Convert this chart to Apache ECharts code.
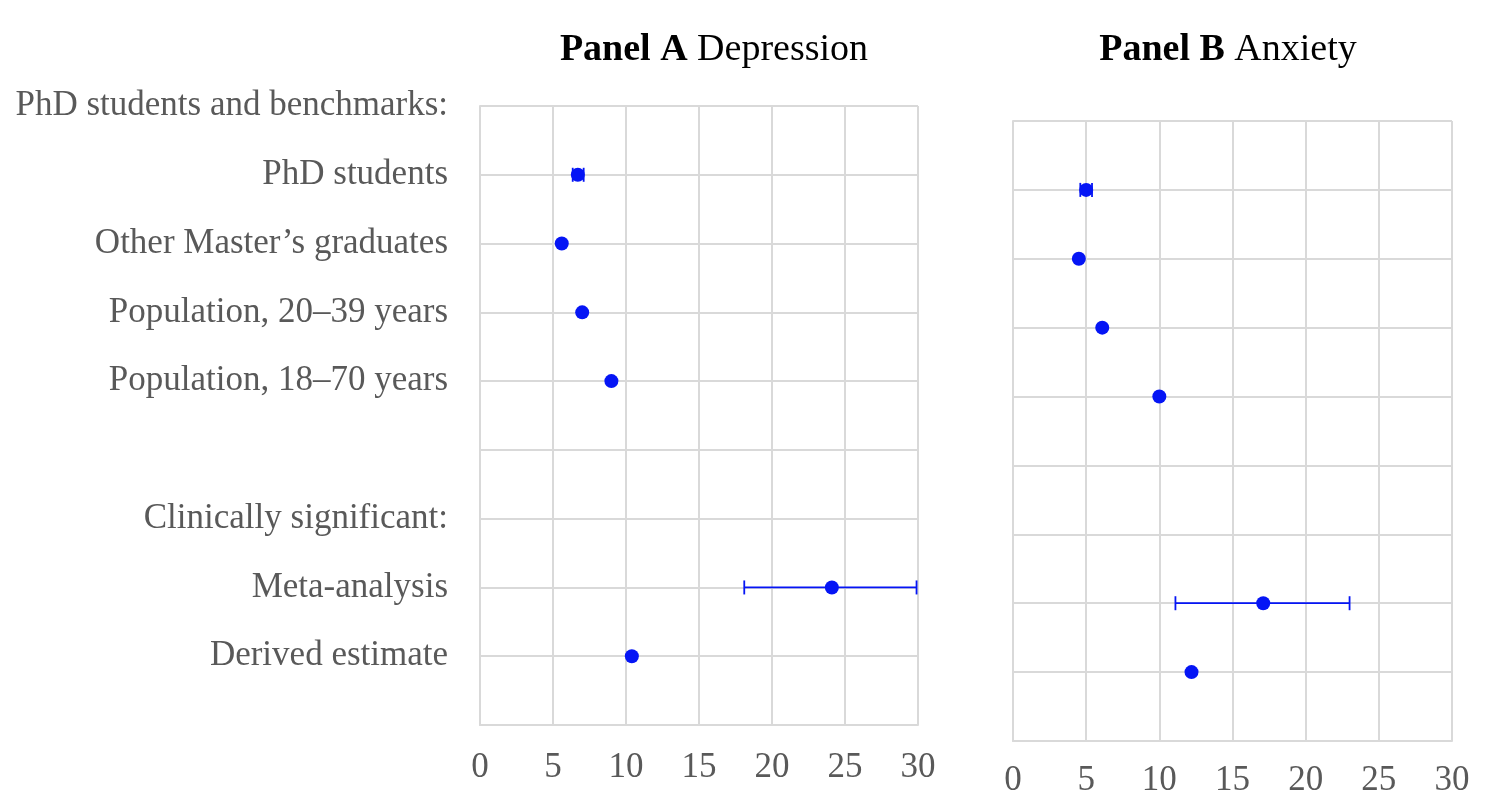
<!DOCTYPE html>
<html>
<head>
<meta charset="utf-8">
<script src="https://cdn.jsdelivr.net/npm/echarts@6/dist/echarts.min.js"></script>
<style>
html,body{margin:0;padding:0;background:#fff;}
#c{width:1492px;height:811px;}
</style>
</head>
<body>
<div id="c"></div>
<script>
const categories = ['PhD students and benchmarks:', 'PhD students', 'Other Master\u2019s graduates', 'Population, 20\u201339 years', 'Population, 18\u201370 years', ' ', 'Clinically significant:', 'Meta-analysis', 'Derived estimate', '  '];
const xTicks = [0, 5, 10, 15, 20, 25, 30];

// Panel A: Depression — [category index, value]
const depPoints = [[1, 6.7], [2, 5.6], [3, 7.0], [4, 9.0], [7, 24.1], [8, 10.4]];
const depErrors = [[1, 6.35, 7.1], [7, 18.1, 29.9]];

// Panel B: Anxiety
const anxPoints = [[1, 5.0], [2, 4.5], [3, 6.1], [4, 10.0], [7, 17.1], [8, 12.2]];
const anxErrors = [[1, 4.6, 5.4], [7, 11.1, 23.0]];

const BLUE = '#0515f5';
const GRIDC = '#d9d9d9';
const GREY = '#595959';
const FONT = '"Liberation Serif", "Times New Roman", serif';

function errSeries(data, idx) {
  return {
    type: 'custom', xAxisIndex: idx, yAxisIndex: idx, z: 3,
    data: data.map(d => [d[1], d[2], d[0]]),
    renderItem: function (params, api) {
      const y = api.value(2);
      const p1 = api.coord([api.value(0), y]);
      const p2 = api.coord([api.value(1), y]);
      const h = 7;
      const st = { stroke: BLUE, lineWidth: 1.8 };
      return { type: 'group', children: [
        { type: 'line', shape: { x1: p1[0], y1: p1[1], x2: p2[0], y2: p2[1] }, style: st },
        { type: 'line', shape: { x1: p1[0], y1: p1[1] - h, x2: p1[0], y2: p1[1] + h }, style: st },
        { type: 'line', shape: { x1: p2[0], y1: p2[1] - h, x2: p2[0], y2: p2[1] + h }, style: st }
      ]};
    }
  };
}

function xAxis(idx, margin) {
  return {
    type: 'value', gridIndex: idx, min: 0, max: 30, interval: 5,
    axisLine: { show: true, lineStyle: { color: GRIDC, width: 2 } },
    axisTick: { show: false },
    splitLine: { show: true, lineStyle: { color: GRIDC, width: 2 } },
    axisLabel: { color: GREY, fontFamily: FONT, fontSize: 35, margin: margin,
      formatter: v => xTicks.indexOf(v) >= 0 ? String(v) : '' }
  };
}
function yAxis(idx, showLabels) {
  return {
    type: 'category', gridIndex: idx, data: categories, inverse: true, boundaryGap: false,
    axisLine: { show: true, lineStyle: { color: GRIDC, width: 2 } },
    axisTick: { show: false },
    splitLine: { show: true, lineStyle: { color: GRIDC, width: 2 } },
    axisLabel: { show: showLabels, interval: 0, color: GREY, fontFamily: FONT, fontSize: 35, margin: 32 }
  };
}

const chart = echarts.init(document.getElementById('c'));
chart.setOption({
  backgroundColor: '#fff',
  animation: false,
  title: [
    { text: '{b|Panel A} Depression', left: 709, top: 26, textAlign: 'center',
      textStyle: { fontFamily: FONT, fontSize: 38, fontWeight: 'normal', color: '#000',
        rich: { b: { fontFamily: FONT, fontSize: 38, fontWeight: 'bold', color: '#000' } } } },
    { text: '{b|Panel B} Anxiety', left: 1223, top: 26, textAlign: 'center',
      textStyle: { fontFamily: FONT, fontSize: 38, fontWeight: 'normal', color: '#000',
        rich: { b: { fontFamily: FONT, fontSize: 38, fontWeight: 'bold', color: '#000' } } } }
  ],
  grid: [
    { left: 480, right: 1492 - 918, top: 106, bottom: 811 - 725 },
    { left: 1013, right: 1492 - 1452, top: 121, bottom: 811 - 741 }
  ],
  xAxis: [xAxis(0, 25), xAxis(1, 22)],
  yAxis: [yAxis(0, true), yAxis(1, false)],
  series: [
    errSeries(depErrors, 0),
    errSeries(anxErrors, 1),
    { type: 'scatter', xAxisIndex: 0, yAxisIndex: 0, z: 5, symbolSize: 14,
      itemStyle: { color: BLUE, opacity: 1 }, data: depPoints.map(d => [d[1], d[0]]) },
    { type: 'scatter', xAxisIndex: 1, yAxisIndex: 1, z: 5, symbolSize: 14,
      itemStyle: { color: BLUE, opacity: 1 }, data: anxPoints.map(d => [d[1], d[0]]) }
  ]
});
</script>
</body>
</html>
